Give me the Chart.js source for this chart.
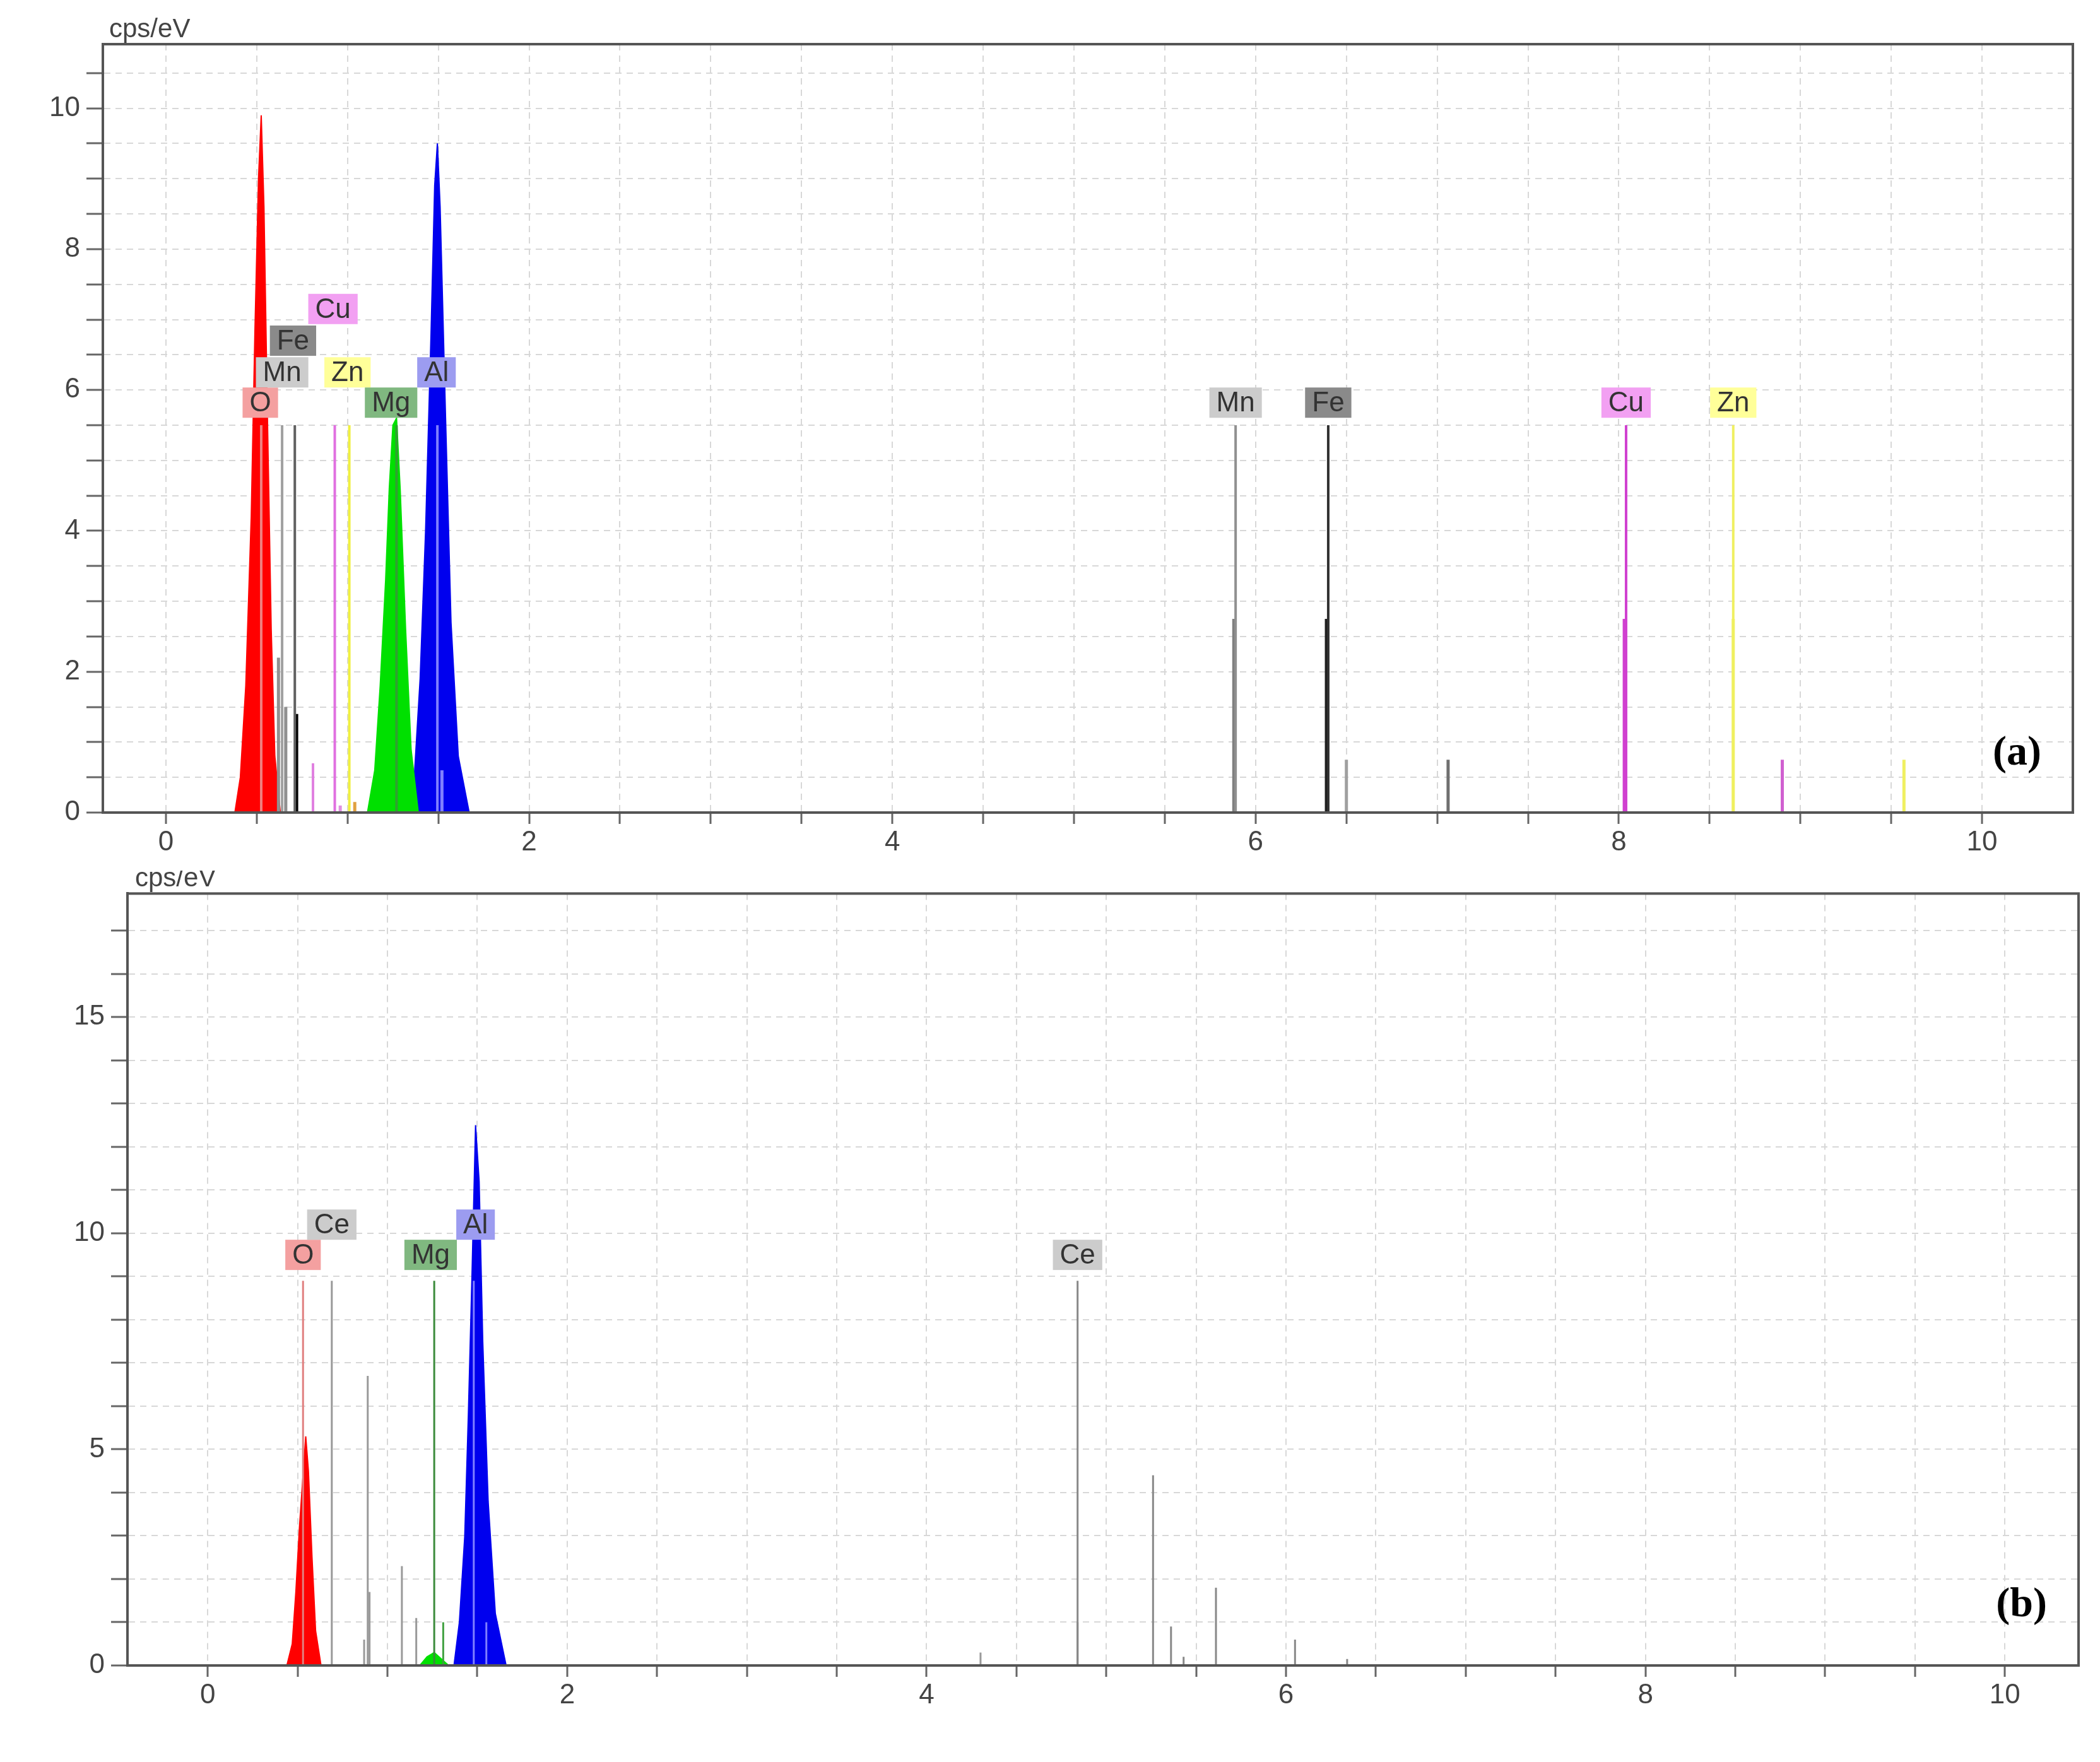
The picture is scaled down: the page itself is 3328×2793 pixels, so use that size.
<!DOCTYPE html>
<html>
<head>
<meta charset="utf-8">
<script src="https://cdn.jsdelivr.net/npm/chart.js@4.4.1/dist/chart.umd.min.js"></script>
<style>
  body { margin: 0; background: #fff; width: 3328px; height: 2793px; overflow: hidden; }
  .wrap { position: absolute; left: 0; width: 3328px; }
  #wa { top: 0; height: 1380px; }
  #wb { top: 1380px; height: 1413px; }
</style>
</head>
<body>
<div class="wrap" id="wa"><canvas id="chartA"></canvas></div>
<div class="wrap" id="wb"><canvas id="chartB"></canvas></div>
<script>
// ---- panel (a) : peaks (keV, cps/eV) ----
const aO_x  = [0.38, 0.41, 0.44, 0.47, 0.49, 0.51, 0.525, 0.54, 0.56, 0.58, 0.60, 0.63];
const aO_y  = [0, 0.5, 1.8, 4.2, 6.8, 9.0, 9.9, 8.6, 5.5, 2.6, 0.8, 0];
const aMg_x = [1.11, 1.15, 1.18, 1.21, 1.23, 1.25, 1.27, 1.29, 1.32, 1.35, 1.39];
const aMg_y = [0, 0.6, 1.8, 3.3, 4.6, 5.5, 5.6, 4.6, 2.6, 0.9, 0];
const aAl_x = [1.33, 1.37, 1.40, 1.43, 1.46, 1.48, 1.495, 1.51, 1.54, 1.57, 1.61, 1.67];
const aAl_y = [0, 0.6, 1.9, 4.0, 6.8, 8.9, 9.5, 8.6, 5.6, 2.7, 0.8, 0];
// element marker lines
const aLine_x   = [0.525, 0.64, 0.71, 0.81, 0.93, 1.01, 1.27, 1.495, 5.89, 6.40, 8.04, 8.63];
const aLine_h   = [5.5, 5.5, 5.5, 0.7, 5.5, 5.5, 5.5, 5.5, 5.5, 5.5, 5.5, 5.5];
const aLine_c   = ['#f08080', '#a0a0a0', '#606060', '#e080e0', '#e070e0', '#f0f040', '#30a030', '#8080ff', '#909090', '#303030', '#d040d0', '#f0f060'];
const aMinor_x  = [0.62, 0.66, 0.72, 0.96, 1.04, 1.52, 5.88, 6.39, 6.50, 7.06, 8.03, 8.63, 8.90, 9.57];
const aMinor_h  = [2.2, 1.5, 1.4, 0.1, 0.15, 0.6, 2.75, 2.75, 0.75, 0.75, 2.75, 2.75, 0.75, 0.75];
const aMinor_c  = ['#909090', '#909090', '#000000', '#e090e0', '#e0a040', '#8080ff', '#808080', '#202020', '#a0a0a0', '#707070', '#d040d0', '#f0f060', '#d060d0', '#f0f060'];
const aLab_t = ['O', 'Mn', 'Fe', 'Cu', 'Zn', 'Mg', 'Al', 'Mn', 'Fe', 'Cu', 'Zn'];
const aLab_x = [0.52, 0.64, 0.70, 0.92, 1.00, 1.24, 1.49, 5.89, 6.40, 8.04, 8.63];
const aLab_y = [5.82, 6.25, 6.7, 7.15, 6.25, 5.82, 6.25, 5.82, 5.82, 5.82, 5.82];
const aLab_c = ['#f4a0a0', '#cccccc', '#8a8a8a', '#f2a0f2', '#ffff99', '#80b880', '#9c9cf0', '#cccccc', '#8a8a8a', '#f2a0f2', '#ffff99'];

// ---- panel (b) ----
const bO_x  = [0.44, 0.47, 0.49, 0.51, 0.53, 0.545, 0.56, 0.58, 0.60, 0.63];
const bO_y  = [0, 0.5, 1.7, 3.2, 4.4, 5.3, 4.5, 2.5, 0.8, 0];
const bMg_x = [1.18, 1.22, 1.26, 1.30, 1.34];
const bMg_y = [0, 0.2, 0.3, 0.15, 0];
const bAl_x = [1.37, 1.40, 1.43, 1.45, 1.47, 1.49, 1.51, 1.53, 1.56, 1.60, 1.66];
const bAl_y = [0, 1.0, 3.0, 5.8, 9.0, 12.5, 11.2, 7.5, 3.8, 1.2, 0];
const bLine_x = [0.53, 0.69, 0.89, 1.26, 1.48, 4.84];
const bLine_h = [8.9, 8.9, 6.7, 8.9, 8.9, 8.9];
const bLine_c = ['#e08080', '#999999', '#999999', '#3a8a3a', '#8080ff', '#888888'];
const bMinor_x = [0.87, 0.90, 1.08, 1.16, 1.31, 1.55, 4.30, 4.84, 5.26, 5.36, 5.43, 5.61, 6.05, 6.34];
const bMinor_h = [0.6, 1.7, 2.3, 1.1, 1.0, 1.0, 0.3, 1.0, 4.4, 0.9, 0.2, 1.8, 0.6, 0.15];
const bMinor_c = ['#999999', '#999999', '#999999', '#999999', '#40a040', '#8080ff', '#999999', '#888888', '#888888', '#888888', '#888888', '#888888', '#888888', '#888888'];
const bLab_t = ['O', 'Ce', 'Mg', 'Al', 'Ce'];
const bLab_x = [0.53, 0.69, 1.24, 1.49, 4.84];
const bLab_y = [9.5, 10.2, 9.5, 10.2, 9.5];
const bLab_c = ['#f4a0a0', '#cccccc', '#80b880', '#9c9cf0', '#cccccc'];

const FONT = 'Liberation Sans, Arial, sans-serif';

function peak(xs, ys, color) {
    return {
        data: xs.map((x, i) => ({ x: x, y: ys[i] })),
        borderColor: color, backgroundColor: color, borderWidth: 2,
        fill: 'origin', pointRadius: 0, tension: 0, order: 2
    };
}

function sticks(xs, hs, cols, width) {
    return xs.map((x, i) => ({
        data: [{ x: x, y: 0 }, { x: x, y: hs[i] }],
        borderColor: cols[i], borderWidth: width, pointRadius: 0, fill: false, order: 1
    }));
}

const frameAndLabels = {
    id: 'frameAndLabels',
    afterDatasetsDraw(chart, args, opts) {
        const ctx = chart.ctx, a = chart.chartArea;
        const xs = chart.scales.x, ys = chart.scales.y;
        ctx.save();
        ctx.font = '44px ' + FONT;
        ctx.textAlign = 'center';
        ctx.textBaseline = 'middle';
        opts.t.forEach((t, i) => {
            const px = xs.getPixelForValue(opts.x[i]);
            const py = ys.getPixelForValue(opts.y[i]);
            const w = ctx.measureText(t).width + 22;
            ctx.fillStyle = opts.c[i];
            ctx.fillRect(px - w / 2, py - 24, w, 48);
            ctx.fillStyle = '#333';
            ctx.fillText(t, px, py + 2);
        });
        ctx.strokeStyle = '#555';
        ctx.lineWidth = 4;
        ctx.strokeRect(a.left, a.top, a.right - a.left, a.bottom - a.top);
        // unit and panel tag
        ctx.textAlign = 'left';
        ctx.textBaseline = 'bottom';
        ctx.fillStyle = '#444';
        ctx.font = '42px ' + FONT;
        ctx.fillText('cps/eV', a.left + opts.unitDx, a.top - 2);
        ctx.font = 'bold 66px Liberation Serif, Times New Roman, serif';
        ctx.textAlign = 'right';
        ctx.textBaseline = 'middle';
        ctx.fillStyle = '#000';
        ctx.fillText(opts.tag, a.right - 50, opts.tagY);
        ctx.restore();
    }
};

function makeChart(id, datasets, cfg) {
    return new Chart(document.getElementById(id), {
        type: 'line',
        data: { datasets: datasets },
        options: {
            responsive: true, maintainAspectRatio: false, animation: false,
            parsing: true, spanGaps: false,
            layout: { padding: { top: cfg.top, right: cfg.right, left: 0, bottom: 0 } },
            plugins: {
                legend: { display: false }, tooltip: { enabled: false },
                frameAndLabels: { t: cfg.lt, x: cfg.lx, y: cfg.ly, c: cfg.lc, tag: cfg.tag, tagY: cfg.tagY, unitDx: cfg.unitDx }
            },
            scales: {
                x: {
                    type: 'linear', min: cfg.xmin, max: cfg.xmax,
                    afterBuildTicks: s => { const t = []; for (let v = 0; v <= 10; v += 0.5) t.push({ value: v }); s.ticks = t; },
                    afterFit: s => { s.height = cfg.xh; },
                    ticks: { autoSkip: false, maxRotation: 0, color: '#444', font: { size: 44, family: FONT },
                             callback: v => (v % 2 === 0 ? String(v) : '') },
                    grid: { color: '#d8d8d8', lineWidth: 2, tickColor: '#666', tickLength: 18, tickWidth: 3 },
                    border: { display: true, color: '#555', width: 4, dash: [10, 8] }
                },
                y: {
                    type: 'linear', min: 0, max: cfg.ymax,
                    afterBuildTicks: s => { const t = []; for (let v = 0; v <= cfg.ymax; v += cfg.ystep) t.push({ value: v }); s.ticks = t; },
                    afterFit: s => { s.width = cfg.yw; },
                    ticks: { autoSkip: false, color: '#444', font: { size: 44, family: FONT }, padding: 10,
                             callback: v => (Math.abs(v % cfg.ylab) < 1e-6 ? String(v) : '') },
                    grid: { color: '#d8d8d8', lineWidth: 2, tickColor: '#666', tickLength: 26, tickWidth: 3 },
                    border: { display: true, color: '#555', width: 4, dash: [10, 8] }
                }
            }
        },
        plugins: [frameAndLabels]
    });
}

const dsA = [
    peak(aO_x, aO_y, '#ff0000'), peak(aMg_x, aMg_y, '#00e000'), peak(aAl_x, aAl_y, '#0000ee'),
    ...sticks(aLine_x, aLine_h, aLine_c, 4), ...sticks(aMinor_x, aMinor_h, aMinor_c, 5)
];
makeChart('chartA', dsA, {
    top: 70, right: 43, yw: 163, xh: 92, xmin: -0.347, xmax: 10.5, ymax: 10.91, ystep: 0.5, ylab: 2,
    lt: aLab_t, lx: aLab_x, ly: aLab_y, lc: aLab_c, tag: '(a)', tagY: 1195, unitDx: 10
});

const dsB = [
    peak(bO_x, bO_y, '#ff0000'), peak(bMg_x, bMg_y, '#00e000'), peak(bAl_x, bAl_y, '#0000ee'),
    ...sticks(bLine_x, bLine_h, bLine_c, 3), ...sticks(bMinor_x, bMinor_h, bMinor_c, 3)
];
makeChart('chartB', dsB, {
    top: 27, right: 34, yw: 202, xh: 153, xmin: -0.447, xmax: 10.41, ymax: 17.86, ystep: 1, ylab: 5,
    lt: bLab_t, lx: bLab_x, ly: bLab_y, lc: bLab_c, tag: '(b)', tagY: 1165, unitDx: 12
});
</script>
</body>
</html>
